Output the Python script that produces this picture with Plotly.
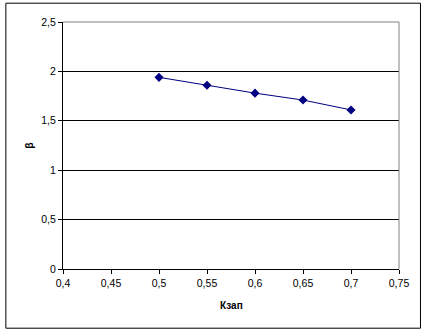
import plotly.graph_objects as go

# Data series
k_zap = [0.5, 0.55, 0.6, 0.65, 0.7]
beta = [1.94, 1.86, 1.78, 1.71, 1.61]

# Axis ticks and labels (decimal comma)
x_ticks = [0.4, 0.45, 0.5, 0.55, 0.6, 0.65, 0.7, 0.75]
x_tick_text = ["0,4", "0,45", "0,5", "0,55", "0,6", "0,65", "0,7", "0,75"]
y_ticks = [0, 0.5, 1, 1.5, 2, 2.5]
y_tick_text = ["0", "0,5", "1", "1,5", "2", "2,5"]

W, H = 424, 334
ml, mr, mt, mb = 62.7, 25, 22.3, 64.7
pw = W - ml - mr
ph = H - mt - mb

def px_x(px):
    return (px - ml) / pw

def px_y(py):
    return (H - mb - py) / ph

font = "Liberation Sans, Arial, sans-serif"

fig = go.Figure()
fig.add_trace(go.Scatter(
    x=k_zap, y=beta, mode="lines+markers",
    line=dict(color="#000080", width=1),
    marker=dict(symbol="diamond", size=7, color="#000080"),
    showlegend=False,
))

fig.update_layout(
    width=W, height=H,
    margin=dict(l=ml, r=mr, t=mt, b=mb, pad=0),
    paper_bgcolor="white", plot_bgcolor="white",
    separators=", ",
    font=dict(family=font, size=10.5, color="black"),
    xaxis=dict(
        range=[0.4, 0.75], tickvals=x_ticks, ticktext=x_tick_text,
        showgrid=False, zeroline=False,
        showline=True, linecolor="black", linewidth=1,
        ticks="outside", ticklen=4, tickcolor="black", tickwidth=1,
    ),
    yaxis=dict(
        range=[0, 2.5], tickvals=y_ticks, ticktext=y_tick_text,
        showgrid=True, gridcolor="black", gridwidth=1, zeroline=False,
        showline=True, linecolor="black", linewidth=1,
        ticks="outside", ticklen=4, tickcolor="black", tickwidth=1,
    ),
    shapes=[
        # grey top and right edges of the plot area
        dict(type="line", xref="paper", yref="paper", x0=0, x1=1, y0=1, y1=1,
             line=dict(color="#808080", width=1), layer="above"),
        dict(type="line", xref="paper", yref="paper", x0=1, x1=1, y0=0, y1=1,
             line=dict(color="#808080", width=1), layer="above"),
        # outer chart frame
        dict(type="rect", xref="paper", yref="paper",
             x0=px_x(5.5), x1=px_x(420.5), y0=px_y(328.5), y1=px_y(3.5),
             line=dict(color="black", width=1), fillcolor="rgba(0,0,0,0)",
             layer="above"),
    ],
    annotations=[
        dict(text="<b>Кзап</b>", xref="paper", yref="paper",
             x=0.5, y=px_y(306), showarrow=False,
             xanchor="center", yanchor="middle",
             font=dict(family=font, size=10, color="black")),
        dict(text="<b>β</b>", xref="paper", yref="paper",
             x=px_x(28), y=0.5, showarrow=False, textangle=-90,
             xanchor="center", yanchor="middle",
             font=dict(family=font, size=10.5, color="black")),
    ],
)

fig.write_html("out.html")
